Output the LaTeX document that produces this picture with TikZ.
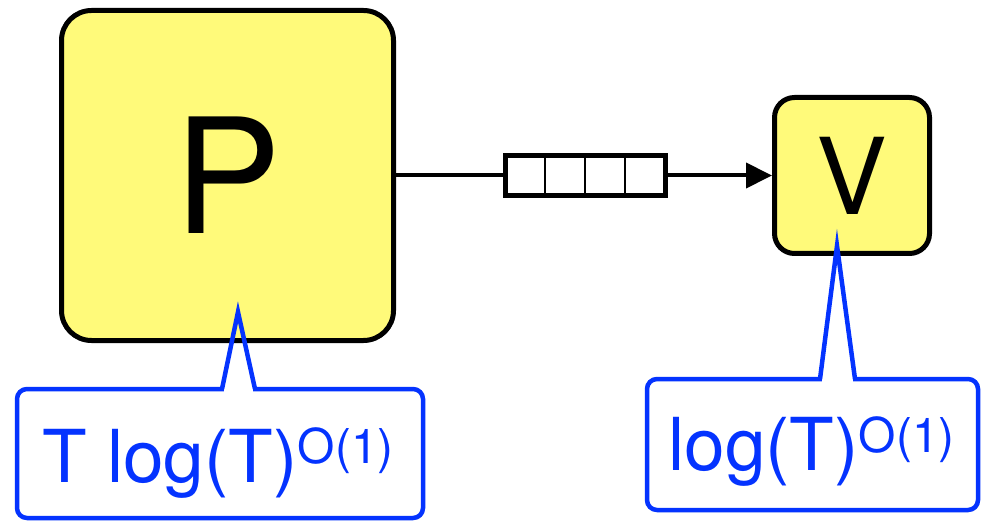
\documentclass[tikz,border=0pt]{standalone}
\usepackage{fontspec}
\setmainfont{TeX Gyre Heros}
\usetikzlibrary{arrows.meta,shadows,calc}
\definecolor{boxyellow}{RGB}{255,250,122}
\definecolor{calloutblue}{RGB}{4,51,255}
\tikzset{
  agent/.style={draw=black, line width=5pt, fill=boxyellow, inner sep=0pt},
  callout/.style={draw=calloutblue, line width=4.5pt, fill=white, rounded corners=10pt,
    inner sep=0pt, drop shadow={opacity=0.2, shadow xshift=1.5pt, shadow yshift=-2pt}},
  calloutline/.style={draw=calloutblue, line width=4.5pt, line join=miter},
  ctext/.style={text=calloutblue, inner sep=0pt, anchor=base west, font=\fontsize{73}{80}\selectfont},
  cell/.style={draw=black, line width=2.5pt, minimum width=40pt, minimum height=40pt, inner sep=0pt, outer sep=0pt},
  link/.style={draw=black, line width=4pt}
}
\newcommand{\supo}[1]{\raisebox{#1}{\fontsize{48}{52}\selectfont O(1)}}
\begin{document}
\begin{tikzpicture}[x=1pt,y=-1pt]
\useasboundingbox[fill=white] (0,0) rectangle (982,521);
% main boxes
\node[agent, rounded corners=30pt, minimum width=332pt, minimum height=330pt,
      font=\fontsize{160}{170}\selectfont] (P) at (227.5,175.5) {P};
\node[agent, rounded corners=20pt, minimum width=155pt, minimum height=156pt,
      font=\fontsize{106}{110}\selectfont] (V) at (852,175.5) {V};
% queue
\node[cell] (q1) at (525,175.5) {};
\node[cell, anchor=west] (q2) at (q1.east) {};
\node[cell, anchor=west] (q3) at (q2.east) {};
\node[cell, anchor=west] (q4) at (q3.east) {};
\draw[line width=5pt] (q1.north west) rectangle (q4.south east);
% connectors
\draw[link] (P.east) -- (q1.west);
\draw[link, -{Triangle[length=26pt,width=25pt]}] (q4.east) -- (V.west);
% callout 1
\node[callout, minimum width=406pt, minimum height=129pt] (c1) at (220,453.5) {};
\coordinate (b1l) at (222,389);
\coordinate (b1r) at (255,389);
\coordinate (t1) at (238,312);
\fill[white] ($(b1l)+(2.4,-3)$) rectangle ($(b1r)+(-2.4,3)$);
\draw[calloutline] (b1l) -- (t1) -- (b1r);
\node[ctext] (c1text) at (42,482) {T log(T)\supo{19pt}};
% callout 2
\node[callout, minimum width=331pt, minimum height=131pt] (c2) at (812.5,444.5) {};
\coordinate (b2l) at (820,379);
\coordinate (b2r) at (855,379);
\coordinate (t2) at (837,246);
\fill[white] ($(b2l)+(2.4,-3)$) rectangle ($(b2r)+(-2.4,3)$);
\draw[calloutline] (b2l) -- (t2) -- (b2r);
\node[ctext] (c2text) at (668,470) {log(T)\supo{18pt}};
\end{tikzpicture}
\end{document}
